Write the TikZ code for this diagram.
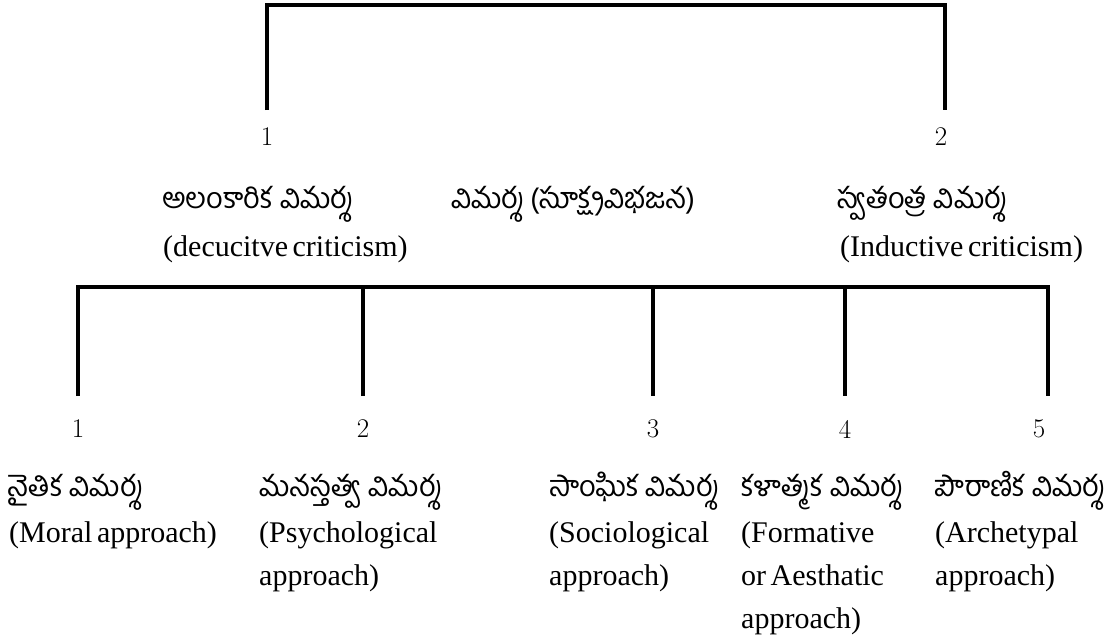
\documentclass[tikz,border=0pt]{standalone}
\usepackage{fontspec}
\newfontfamily\telfont[Script=Telugu]{Hind Guntur}
\newfontfamily\engfont[WordSpace=0.6]{Liberation Serif}
\newcommand\stackl[1]{\begin{tabular}[t]{@{}l@{}}#1\end{tabular}}
\begin{document}
\begin{tikzpicture}[x=1pt,y=-1pt,
  conn/.style={line width=3.2pt, line join=miter},
  topnum/.style={font=\fontsize{27}{27}\selectfont, inner sep=0pt, outer ysep=18pt},
  botnum/.style={font=\fontsize{27}{27}\selectfont, inner sep=0pt, outer ysep=24pt},
  tel/.style={font=\telfont\fontsize{29}{34}\selectfont, inner sep=0pt, anchor=base west},
  eng/.style={font=\engfont\fontsize{30}{43}\selectfont, inner sep=0pt, anchor=base west},
]
\useasboundingbox[fill=white] (0,0) rectangle (1114,642);

% upper level
\node[topnum] (n1) at (267,137) {1};
\node[topnum] (n2) at (941,137) {2};
\coordinate (topbar) at (600,5);
\draw[conn] (n1.north) |- (topbar) -| ([xshift=4pt]n2.north);

\node[tel] (t1) at (162,208) {అలంకారిక విమర్శ};
\node[tel] (t0) at (451,208) {విమర్శ (సూక్ష్మవిభజన)};
\node[tel] (t2) at (837,208) {స్వతంత్ర విమర్శ};
\node[eng] (e1) at (163,256) {\stackl{(decucitve criticism)}};
\node[eng] (e2) at (840,256) {\stackl{(Inductive criticism)}};

% lower level
\node[botnum] (m1) at (78,429) {1};
\node[botnum] (m2) at (363,429) {2};
\node[botnum] (m3) at (653,429) {3};
\node[botnum] (m4) at (845,429) {4};
\node[botnum] (m5) at (1039,429) {5};
\coordinate (botbar) at (560,287);
\draw[conn] (m1.north) |- (botbar) -| ([xshift=9pt]m5.north);
\foreach \m in {m2,m3,m4} \draw[conn] (\m.north) -- (\m.north |- botbar);

\node[tel] (u1) at (7,496) {నైతిక విమర్శ};
\node[tel] (u2) at (259,496) {మనస్తత్వ విమర్శ};
\node[tel] (u3) at (549,496) {సాంఘిక విమర్శ};
\node[tel] (u4) at (741,496) {కళాత్మక విమర్శ};
\node[tel] (u5) at (935,496) {పౌరాణిక విమర్శ};

\node[eng] (v1) at (9,542) {\stackl{(Moral approach)}};
\node[eng] (v2) at (259,542) {\stackl{(Psychological\\approach)}};
\node[eng] (v3) at (549,542) {\stackl{(Sociological\\approach)}};
\node[eng] (v4) at (741,542) {\stackl{(Formative\\or Aesthatic\\approach)}};
\node[eng] (v5) at (935,542) {\stackl{(Archetypal\\approach)}};
\end{tikzpicture}
\end{document}
